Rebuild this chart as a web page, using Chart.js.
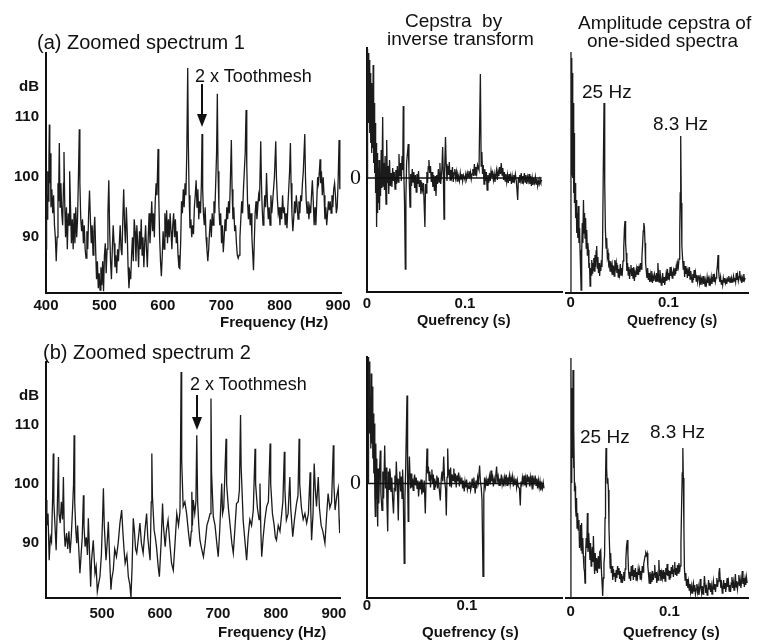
<!DOCTYPE html>
<html>
<head>
<meta charset="utf-8">
<script src="https://cdn.jsdelivr.net/npm/chart.js@4.4.0/dist/chart.umd.min.js"></script>
<style>
  body { margin: 0; background: #fff; }
  #page { position: relative; width: 763px; height: 640px; overflow: hidden;
          font-family: "Liberation Sans", Arial, sans-serif; color: #111; }
  #page canvas { position: absolute; left: 0; top: 0; }
  .t { position: absolute; white-space: pre; line-height: 1; }
  .bar { position: absolute; background: #111; }
  .head { position: absolute; width: 0; height: 0; }
</style>
</head>
<body>
<div id="page">
  <canvas id="specA" width="763" height="640"></canvas>
  <canvas id="cepA" width="763" height="640"></canvas>
  <canvas id="ampA" width="763" height="640"></canvas>
  <canvas id="specB" width="763" height="640"></canvas>
  <canvas id="cepB" width="763" height="640"></canvas>
  <canvas id="ampB" width="763" height="640"></canvas>
</div>
<script>
// ---- data: [frequency Hz, level dB] ----
const spectrum1 = [
 [400,88],[401,97],[402,93],[403,101],[404,96],[405,103],[405.7,108.8],[406.5,99],[407.5,104],[408.5,95],[410,98],[411.5,94],[413,97],[414.5,92],[416,90],[417.5,86],[419,90],[420.5,99],[421.5,96],[422.8,105.7],[424,95],[425.5,99],[427,94],[428.5,92],[430,99],[430.8,104.2],[432,96],[433.5,90],[435,95],[436.5,88],[438,94],[439.5,92],[440.5,101],[442,95],[443.5,89],[445,93],[446.5,88],[448,94],[449.5,89],[451,95],[452.5,90],[454,93],[455.5,100],[457,108],[458,99],[459.5,93],[461,91],[462.5,93],[464,89],[465.5,92],[467,88],[468.5,86.5],[470,91],[471.5,88],[473,94],[474.5,97.8],[476,93],[477.5,89],[479,92],[480.5,87],[482,91],[483.5,93.4],[485,88],[486.5,83],[488,86],[489.5,81.5],[491,84],[492.5,81.2],[494,85],[495.5,82],[497,86],[498.5,81],[500,87],[501.5,89],[503,84],[504.5,88],[506,94],[507.5,99.5],[509,91],[510.5,86],[512,83],[513.5,88],[515,92],[516.5,89],[518,85],[519.5,87],[521,84],[522.5,88],[524,86],[525.5,89],[527,92],[528.5,88],[530,87],[531.5,93],[533,98],[534.5,92],[536,89],[537.5,95],[539,91],[540.5,85],[542,81.5],[543.5,84],[545,83],[546.5,87],[548,90],[549.5,86],[551,93],[552.5,91],[554,86],[555.5,92],[557,89],[558.5,85],[560,91],[561.5,88],[563,93],[564.5,87],[566,90],[567.5,85],[569,89],[570.5,92],[572,88],[573.5,85],[575,90],[576.5,94],[578,89],[579.5,92],[581,96],[582.5,91],[584,94],[585.5,90],[587,96],[588.5,99],[590,97],[591.8,104.7],[593,97],[594.5,90],[596,86],[597.5,83.5],[599,87],[600.5,91],[602,88],[603.5,94],[605,90],[606.5,94.5],[608,89],[609.5,93],[611,90],[612.5,94],[614,91],[615.5,88],[617,92],[618.5,94],[620,90],[621.5,93],[623,89],[624.5,91],[626,87],[627.5,85],[629,84.8],[630.5,89],[632,96],[633.5,94],[635,98],[636.5,95],[638,99],[639.5,97],[641,104],[642.6,118.2],[643.6,106],[645,97],[646.5,91.5],[648,93],[649.5,90],[651,92],[652.5,90.5],[654,95],[655.5,97],[657,99.5],[658.5,95],[660,98],[661.5,93],[663,96],[664.5,94],[666,99],[667.1,107.2],[668.2,98],[669.5,94],[671,92],[672.5,95],[674,90],[675.5,88],[677,86],[678.5,88],[680,91],[681.5,93],[683,90],[684.5,94],[686,92],[687.5,96],[689,94],[690.5,99],[692,104],[693.3,113.9],[694.5,101],[696,95],[697.5,92],[699,94],[700.5,89],[702,92],[703.5,87.5],[705,90],[706.5,93],[708,91],[709.5,95],[711,93],[712.5,96],[714,94],[715.5,99],[717.3,106.2],[718.5,98],[720,93],[721.5,95],[723,91],[724.5,92],[726,89],[727.5,87],[729,86.5],[730.5,87],[732,90],[733.5,93],[735,96],[736.5,94],[738,98],[739.5,101],[741,104],[742.5,111.2],[743.7,102],[745,96],[746.5,93],[748,95.5],[749.5,92],[751,94],[752.5,90],[754,87],[755.2,84.5],[756.5,89],[758,94],[759.5,96],[761,93],[762.5,95],[764,97],[765.5,96],[767.6,106],[768.8,99],[770,95],[771.5,92],[773,94],[774.5,97],[776,95],[777.5,100.7],[779,96],[780.5,93],[782,95],[783.5,92],[785,97],[786.5,94],[788,96],[789.5,98],[791,100],[793.3,106],[794.5,100],[796,96.5],[797.5,94],[799,95],[800.5,92],[802,95],[803.5,93],[805,97],[806.5,94],[808,95],[809.5,92],[811,94],[812.5,91.5],[814,95],[815.5,98],[817,101],[818.4,105.7],[819.5,99],[821,94],[822.5,91],[824,93],[825.5,96],[827,94],[828.5,97],[830,95],[831.5,93],[833,96],[834.5,94],[836,97],[837.5,96],[839,99],[840.5,101],[843,107.2],[844.2,100],[845.5,96],[847,94],[848.5,96],[850,93],[851.5,95],[853,94],[854.5,97],[856,99.5],[857.5,96],[859,92],[860.5,95],[862,92],[863.5,96],[865,100],[866.5,99],[868,101],[869.2,103],[870.3,99],[871.5,101],[873,97],[874.5,100],[876,97],[877.5,93],[879,95],[880.5,92],[882,94],[883.5,96],[885,94.5],[886.5,96],[888,94],[889.5,97],[891,95],[892.5,98],[894,99],[895.5,97],[897,94],[898.5,95],[900,99],[901.7,106.2],[903,98]
];
const spectrum2 = [
 [404,97.3],[405,93],[407,95],[409,87.1],[411,91],[413,90.2],[415,98],[416,105.2],[417,97],[419,93],[421,88.8],[423,96],[425,104.6],[426,95],[428,93.4],[430,97],[432,94],[433.5,101.2],[435,92],[436.5,89.4],[439,91.7],[441,89],[443,92],[445,88.3],[447,91],[449.5,96.2],[451,100],[452,108.3],[453,97],[455,92],[456.5,90],[458,93],[460,89],[462,84.9],[464,88],[466,91],[468,98.1],[469,93],[471,89.4],[473,91],[475,88],[476.5,94.2],[478,90],[480.5,82.6],[482,87],[485,90.5],[488,84.9],[490,86],[492,81.8],[494,83],[496.5,84.3],[499,88],[501,94],[502.5,99.3],[504,93],[507,87.1],[509,90],[511,93.6],[513,88],[515.5,82.1],[517,84],[519.5,85.4],[522,89],[525,87.7],[528,90],[531,93.4],[534,95.6],[536,92],[538,89],[540,86.6],[543,88],[545.5,84.3],[548,83],[550,80.8],[552,86],[554,94.2],[556,92],[558,89],[560,88.3],[563,91],[565.5,93.4],[568,90],[571,88.3],[574,92],[577,95],[579,91],[581,89],[583,87.1],[585,97],[586,105.2],[587,98],[590,92.2],[592,91],[594,89.4],[597,86],[599,84.3],[602,90],[604.5,96.7],[606,93],[609,89.4],[611,92],[614,93.9],[617,90],[620,86.6],[623,85.4],[626,90],[629,95],[632,93],[634.5,95.3],[635.5,106],[636.5,119],[637.5,104],[640,96.2],[643,97],[646,95],[649,92],[652,89.4],[654,92],[655,98.7],[656,93],[657.5,97.3],[660,95],[662,97],[663.5,108.3],[665,97],[667,93],[669,90.5],[672,89],[675,87.7],[678,90],[681,93],[684,94],[686.5,95],[688,114.5],[689,102],[692,94.5],[695,93],[698,90],[700.5,87.7],[703,92],[706.5,100.1],[708,95],[710,96],[714,107.7],[715,100],[718,96],[721,93],[724,90],[726.5,88.3],[729,92],[732,96.7],[735,97],[737,99],[739,111.7],[740,103],[743.5,93.9],[746,91],[749.5,87.1],[752,91],[755,94],[758,93],[761,95.6],[764,106],[765,100],[768,96],[771,94],[772.5,100.1],[774,92],[775.5,87.7],[778,91],[781,94],[784,96.2],[787,97],[790,106.9],[791,100],[794,95],[797,93],[799,91],[801,90.5],[804,93],[807,92],[810,95],[812,97],[814.5,105.5],[815.5,99],[818,93.9],[821,95],[824,101.2],[825.5,96],[829,91.1],[832,94],[835.5,96.7],[838,98],[840,107.7],[841,100],[844,96],[847,94],[850,95],[853,93.4],[856,95],[859,102],[860,96],[861.5,90.5],[864,95],[866,103.5],[868,99],[870,96.2],[873,101.2],[875,96],[878,93],[881,92],[884.5,90],[887,94],[890,98.4],[893,96],[896,97],[899,106.6],[900,100],[902,95.6],[905,98],[907.5,99.3],[909,94],[910,91.7]
];
// ---- cepstra by inverse transform: [quefrency s, relative amplitude] ----
const cepstrum1 = [
 [0,0],[0.0003,12.9],[0.0008,7],[0.0013,12.5],[0.0018,5.5],[0.0023,11.8],[0.0028,4.5],[0.0033,10.5],[0.0038,3.5],[0.0043,9.5],[0.0048,2.5],[0.0053,8],[0.0058,3],[0.0063,11.3],[0.0068,1.5],[0.0073,7.5],[0.0078,0.5],[0.0083,5.5],[0.0088,-1.5],[0.0093,3.5],[0.0098,-4.9],[0.0103,2.5],[0.0108,-3.5],[0.0113,1],[0.0118,-2.5],[0.0123,1.8],[0.0128,-3.2],[0.0133,0.5],[0.0138,-1.8],[0.0145,2.8],[0.0152,-1],[0.016,6.1],[0.0166,-0.8],[0.0172,1.5],[0.0178,-1.2],[0.0185,2.2],[0.0194,-2.6],[0.0201,3.8],[0.0208,-0.5],[0.0215,1.2],[0.0222,-1.6],[0.023,1.8],[0.0238,-0.8],[0.0246,0.5],[0.0254,-0.9],[0.0262,1],[0.027,-0.3],[0.0278,0.6],[0.0286,-1.1],[0.0294,0.8],[0.0302,-0.6],[0.031,1.2],[0.0318,-0.4],[0.0326,2.4],[0.0334,0.2],[0.0342,1.5],[0.035,-0.3],[0.0358,2.2],[0.0365,0.8],[0.037,7.2],[0.0376,0.5],[0.0383,-2.5],[0.0391,-9.1],[0.0397,-2],[0.0404,1.5],[0.0421,3.4],[0.0428,0.8],[0.0434,-1.2],[0.0439,-2.9],[0.0446,0.4],[0.0454,-0.8],[0.0462,0.9],[0.047,-0.4],[0.0478,0.6],[0.0486,-1],[0.0494,0.3],[0.0502,-1.4],[0.051,0.4],[0.0518,-0.6],[0.0526,0.7],[0.0534,-0.9],[0.0542,-0.2],[0.055,-1.6],[0.0558,-0.4],[0.0566,-1.2],[0.0576,-0.5],[0.0591,-4.9],[0.0597,-0.6],[0.0604,-1.5],[0.0611,0.6],[0.0618,-0.5],[0.0625,1.1],[0.0632,1.8],[0.064,0.5],[0.0648,1.2],[0.0656,-0.4],[0.0664,0.6],[0.0672,-0.9],[0.068,0.3],[0.0688,-1.3],[0.0696,0.2],[0.0704,-1.8],[0.0712,0.3],[0.072,-0.6],[0.0728,0.9],[0.0736,-0.4],[0.0744,1.5],[0.0752,-0.6],[0.0764,0.8],[0.0772,3.1],[0.0779,0.4],[0.0786,-4.1],[0.0792,0.6],[0.0801,4.1],[0.0808,1.4],[0.0816,-0.3],[0.0824,1.2],[0.0832,0.3],[0.084,1.6],[0.0848,-0.2],[0.0856,0.8],[0.0864,0.2],[0.0872,1.1],[0.088,-0.4],[0.0888,0.5],[0.0896,0.9],[0.0904,0],[0.0912,0.6],[0.092,-0.3],[0.0928,0.4],[0.0936,0.1],[0.0944,-0.3],[0.0952,0.5],[0.096,-0.1],[0.0968,0.4],[0.0976,-0.3],[0.0984,0.3],[0.0992,0.1],[0.1,-0.2],[0.1008,0.4],[0.1016,-0.1],[0.1024,0.5],[0.1032,0.1],[0.104,0.7],[0.1048,0.2],[0.1056,0.6],[0.1064,-0.1],[0.1072,0.4],[0.108,0.9],[0.1088,0.2],[0.1096,1.4],[0.1104,0.3],[0.1112,1.1],[0.112,0.5],[0.1128,1.3],[0.1143,0.8],[0.1157,10.4],[0.1165,1.2],[0.1172,2.6],[0.1179,0.4],[0.1186,1.3],[0.1194,-0.6],[0.1202,0.9],[0.121,-0.3],[0.1218,0.6],[0.1226,-1.2],[0.1234,0.3],[0.1242,-0.5],[0.125,0.5],[0.1258,-0.3],[0.1266,0.7],[0.1274,0.1],[0.1282,0.5],[0.129,-0.2],[0.1298,0.4],[0.1306,-0.4],[0.1314,0.3],[0.1322,0.8],[0.133,-0.2],[0.1338,0.7],[0.1346,0.2],[0.1354,1.1],[0.1362,0.4],[0.137,1.5],[0.1378,0.3],[0.1386,1],[0.1394,-0.2],[0.1402,0.6],[0.141,-0.3],[0.1418,0.4],[0.1426,-0.4],[0.1434,0.3],[0.1442,-0.5],[0.145,0.4],[0.1458,-0.3],[0.1466,0.2],[0.1474,-0.6],[0.1482,0.2],[0.149,-0.4],[0.1498,0.3],[0.1506,-0.2],[0.1514,0.4],[0.1524,-0.3],[0.1538,-2.2],[0.1545,0.1],[0.1552,-0.4],[0.1559,0.3],[0.1566,-0.2],[0.1574,0.5],[0.1582,-0.5],[0.159,0.2],[0.1598,-0.3],[0.1606,0.5],[0.1614,-0.4],[0.1622,0.3],[0.163,-0.6],[0.1638,0.1],[0.1646,-0.3],[0.1654,0.4],[0.1662,-0.6],[0.167,0.2],[0.1678,-0.8],[0.1686,0],[0.1694,-0.7],[0.1702,-0.2],[0.171,-0.5],[0.1718,0.1],[0.1726,-0.6],[0.1734,-0.1],[0.1742,-0.8],[0.175,-0.3],[0.1758,-0.6],[0.1766,-0.1],[0.1774,-0.4],[0.1782,-0.2]
];
const cepstrum2 = [
 [0.001,0],[0.0013,12.7],[0.0018,6],[0.0023,12.2],[0.0028,5],[0.0033,8.7],[0.0038,3.5],[0.0043,11],[0.0048,4],[0.0053,9.7],[0.0058,2.5],[0.0063,7],[0.0068,1],[0.0073,6],[0.0078,-1],[0.0083,-3.3],[0.0088,4],[0.0093,-1.5],[0.0098,2.5],[0.0103,-2.5],[0.0107,-4.3],[0.0112,1.5],[0.0118,-2],[0.0124,0.8],[0.0133,3.3],[0.0139,-1],[0.015,-2.7],[0.0158,1.2],[0.0166,-1.5],[0.0177,3.8],[0.0185,-0.5],[0.0193,1.6],[0.0199,-1.8],[0.0207,-4.8],[0.0214,1.2],[0.022,-0.6],[0.0227,1.5],[0.0233,1],[0.024,-0.8],[0.0248,0.6],[0.0256,-1.5],[0.0265,-3],[0.0272,-0.5],[0.0279,0.8],[0.0286,-0.8],[0.0293,2.2],[0.03,0.5],[0.0306,-1.2],[0.0313,-3.7],[0.032,0.4],[0.0328,1.2],[0.0336,-0.8],[0.0343,0.7],[0.035,-1.5],[0.0356,1.4],[0.0362,-0.5],[0.0372,-8],[0.0379,-1.5],[0.0386,1.2],[0.04,8.8],[0.0406,0.5],[0.0412,-3.8],[0.0418,0.4],[0.0424,2.7],[0.043,0.8],[0.0436,-0.5],[0.0442,1],[0.0448,-0.4],[0.0455,0.5],[0.0462,-0.7],[0.0469,0.3],[0.0476,0.9],[0.0484,-0.2],[0.0492,0.6],[0.05,-0.5],[0.0508,0.3],[0.0516,-1.3],[0.0524,0.2],[0.0532,-0.6],[0.054,0.4],[0.0548,-1.1],[0.0556,-0.2],[0.0564,-0.9],[0.0572,0.3],[0.0583,-3],[0.0591,0.4],[0.06,3.5],[0.0607,1],[0.0614,1.7],[0.0621,0.3],[0.0628,1.2],[0.0635,-0.4],[0.0642,0.8],[0.0649,1.4],[0.0656,0],[0.0663,0.9],[0.067,-0.6],[0.0677,0.5],[0.0684,-0.4],[0.0691,0.2],[0.0698,0.8],[0.0705,-0.5],[0.0712,0.6],[0.072,-0.3],[0.0733,-1.7],[0.0742,0.4],[0.075,1.2],[0.0758,0.2],[0.0767,2.7],[0.0775,0.5],[0.0786,-0.6],[0.0793,-3.2],[0.08,0.6],[0.0807,3.5],[0.0814,0.8],[0.0821,1.4],[0.0828,-0.3],[0.0836,1.6],[0.0844,-0.4],[0.0852,0.9],[0.086,0.3],[0.0868,1.5],[0.0876,0.1],[0.0884,1],[0.0892,-0.4],[0.09,0.8],[0.0908,0.2],[0.0916,1.1],[0.0924,-0.3],[0.0932,0.5],[0.094,0.1],[0.0948,0.6],[0.0956,-0.5],[0.0964,0.3],[0.0972,-0.8],[0.098,0.2],[0.0988,-0.4],[0.0996,0.4],[0.1004,-0.6],[0.1012,-0.2],[0.102,-0.5],[0.1028,0.2],[0.1036,-0.7],[0.1044,-0.3],[0.1052,0.5],[0.106,-0.4],[0.1068,0.6],[0.1076,-0.3],[0.1082,-1],[0.109,0.3],[0.1098,-0.5],[0.1106,0.6],[0.1114,0.1],[0.1126,1.8],[0.1134,0.2],[0.1142,-0.4],[0.115,-1.6],[0.116,-9.3],[0.1168,-1.2],[0.1176,0.6],[0.1184,-0.3],[0.1192,0.4],[0.12,-0.2],[0.1208,0.5],[0.1216,0.1],[0.1224,0.7],[0.1232,-0.1],[0.124,1.3],[0.1248,0.2],[0.1256,0.6],[0.1264,-0.3],[0.1272,0.5],[0.128,0.1],[0.1288,0.8],[0.1296,1.7],[0.1304,0.3],[0.1312,0.7],[0.132,-0.2],[0.1328,0.5],[0.1336,0.1],[0.1344,0.9],[0.1352,-0.1],[0.136,0.4],[0.1368,-0.3],[0.1376,0.6],[0.1384,0.1],[0.1392,0.9],[0.14,-0.2],[0.1408,0.6],[0.1416,0.2],[0.1424,0.8],[0.1432,-0.1],[0.144,0.6],[0.1448,0.1],[0.1456,0.7],[0.1464,-0.3],[0.1472,0.4],[0.148,-0.1],[0.1488,0.5],[0.1496,-0.4],[0.1504,0.3],[0.1512,-0.3],[0.1524,-0.5],[0.1533,-2.2],[0.154,0.2],[0.1547,-0.3],[0.1554,0.6],[0.1562,0.1],[0.157,0.8],[0.1578,-0.2],[0.1586,0.5],[0.1594,-0.4],[0.1602,0.9],[0.161,0.2],[0.1618,0.7],[0.1626,-0.3],[0.1634,0.6],[0.1642,-0.1],[0.165,0.8],[0.1658,-0.6],[0.1666,0.4],[0.1674,0.1],[0.1682,0.8],[0.169,-0.2],[0.1698,0.5],[0.1706,-0.5],[0.1714,0.3],[0.1722,-0.4],[0.173,0.2],[0.1738,-0.7],[0.1746,-0.1],[0.1754,-0.5],[0.1762,0.1],[0.177,-0.5]
];
// ---- amplitude cepstra of one-sided spectra: [quefrency s, amplitude] ----
const ampCepstrum1 = [
 [0,0],[0.0002,24.1],[0.0006,13],[0.001,23.5],[0.0014,12],[0.0018,22],[0.0022,11.5],[0.0026,19],[0.003,10],[0.0034,16],[0.0038,9],[0.0044,11],[0.005,7.5],[0.0056,9.3],[0.0061,6],[0.0067,8],[0.0072,5.5],[0.0078,8.7],[0.0084,5],[0.009,6.5],[0.0095,4.3],[0.01,2.5],[0.0106,0.3],[0.0112,4],[0.0118,7],[0.0124,5],[0.013,9.3],[0.0136,6],[0.0141,8],[0.0146,5.5],[0.0152,7.5],[0.0158,4.5],[0.0164,6.3],[0.017,3.8],[0.0175,5],[0.018,4.3],[0.0186,2.5],[0.0192,3],[0.0198,0.7],[0.0204,2.5],[0.021,1.8],[0.0215,3.3],[0.022,2],[0.0225,3],[0.023,2.3],[0.0236,3.5],[0.0242,2.2],[0.0248,3.8],[0.0254,2.6],[0.026,4.2],[0.0266,4.7],[0.0272,2.5],[0.0278,3.6],[0.0284,2],[0.029,3],[0.0296,1.7],[0.0302,2.8],[0.0308,2.2],[0.0314,3.3],[0.032,2.6],[0.0326,5],[0.0333,12],[0.0341,19],[0.0348,11],[0.0355,6.3],[0.0362,4.5],[0.0368,5.5],[0.0375,3.6],[0.0382,4],[0.0389,2.8],[0.0396,3],[0.0403,2.2],[0.041,3.2],[0.0417,2.3],[0.0424,2.8],[0.0431,1.8],[0.0438,2.7],[0.0445,1.7],[0.0452,3.3],[0.0459,2.5],[0.0466,3],[0.0473,2],[0.048,2.8],[0.0487,1.6],[0.0494,2.4],[0.0501,1.9],[0.0508,2.9],[0.0515,1.8],[0.0522,2.5],[0.0529,2.1],[0.0536,3.2],[0.0543,4.5],[0.055,6.5],[0.0556,7.2],[0.0562,5],[0.0568,4],[0.0575,2.2],[0.0582,3],[0.0589,1.8],[0.0596,2.6],[0.0603,1.4],[0.061,2.3],[0.0617,2.8],[0.0624,1.7],[0.0631,2.5],[0.0638,1.5],[0.0645,2.6],[0.0652,1.2],[0.0659,2],[0.0666,1.6],[0.0673,2.4],[0.068,1.9],[0.0687,2.7],[0.0694,1.8],[0.0701,2.5],[0.0708,2.1],[0.0715,3],[0.0722,2.4],[0.0729,3.5],[0.0736,4.8],[0.0743,6.2],[0.0749,7],[0.0755,6.6],[0.0761,5],[0.0767,3],[0.0774,2.2],[0.0781,1.5],[0.0788,2.5],[0.0795,1.3],[0.0802,2],[0.0809,1.1],[0.0816,1.8],[0.0823,1.2],[0.083,2.2],[0.0837,1],[0.0844,1.6],[0.0851,1.2],[0.0858,1.9],[0.0865,1.6],[0.0872,1.1],[0.0879,2],[0.0886,1.2],[0.0893,3],[0.09,1.8],[0.0907,1.1],[0.0914,2.3],[0.0921,1.5],[0.0928,0.8],[0.0935,1.3],[0.0942,2],[0.0949,1],[0.0956,1.6],[0.0963,0.8],[0.097,1.3],[0.0977,1.9],[0.0984,1.2],[0.0991,2.4],[0.0998,1.4],[0.1005,2],[0.1012,1.6],[0.1019,2.6],[0.1026,1.7],[0.1033,2.2],[0.104,1.5],[0.1047,2],[0.1054,2.3],[0.1061,1.8],[0.1068,2.5],[0.1075,1.9],[0.1082,2.7],[0.1089,2.2],[0.1096,3],[0.1103,2.6],[0.111,3.4],[0.1117,6],[0.1122,10],[0.1127,15.7],[0.1133,9],[0.1139,4.7],[0.1146,3.5],[0.1153,2.4],[0.116,3.2],[0.1167,1.6],[0.1174,2.7],[0.1181,1.9],[0.1188,2.5],[0.1195,1.5],[0.1202,2.2],[0.1209,1.7],[0.1216,2.6],[0.1223,1.4],[0.123,2.2],[0.1237,1.6],[0.1244,1.1],[0.1251,1.9],[0.1258,1.3],[0.1265,2.3],[0.1272,1.5],[0.1279,2],[0.1286,1.2],[0.1293,1.8],[0.13,1.1],[0.1307,1.6],[0.1314,1.8],[0.1321,1],[0.1328,1.5],[0.1335,0.8],[0.1342,1.4],[0.1349,1.1],[0.1356,1.7],[0.1363,0.9],[0.137,1.3],[0.1377,0.7],[0.1384,1.2],[0.1391,0.9],[0.1398,1.6],[0.1405,1],[0.1412,1.4],[0.1419,0.8],[0.1426,1.3],[0.1433,1],[0.144,1.6],[0.1447,0.9],[0.1454,1.3],[0.1461,1.9],[0.1468,1.1],[0.1475,1.6],[0.1482,1.1],[0.1489,1.5],[0.1496,2.1],[0.1503,2.7],[0.151,3.8],[0.1516,2.2],[0.1522,1.5],[0.1529,1.1],[0.1536,1.6],[0.1543,0.9],[0.155,1.3],[0.1557,0.8],[0.1564,1.5],[0.1571,1.1],[0.1578,1.5],[0.1585,1],[0.1592,1.3],[0.1599,0.9],[0.1606,1.4],[0.1613,1.2],[0.162,1.7],[0.1627,1.2],[0.1634,1.4],[0.1641,1],[0.1648,1.5],[0.1655,1.1],[0.1662,1.3],[0.1669,1.7],[0.1676,1.2],[0.1683,1.5],[0.169,1.1],[0.1697,2],[0.1704,1.3],[0.1711,1.8],[0.1718,1.2],[0.1725,1.6],[0.1732,2.2],[0.1739,1.4],[0.1746,1.6],[0.1753,1],[0.176,1.5],[0.1767,1.2],[0.1774,1.9],[0.1781,1.3],[0.1788,1.5]
];
const ampCepstrum2 = [
 [0,0],[0.0002,24],[0.0006,12],[0.001,11.5],[0.0014,21],[0.0019,14],[0.0023,22.8],[0.0028,13],[0.0033,17],[0.0038,11],[0.0044,11.2],[0.0049,9],[0.0054,8.2],[0.0059,10],[0.0064,7],[0.007,8.5],[0.0077,6.8],[0.0083,7.8],[0.0089,5],[0.0094,5.5],[0.01,7.3],[0.0105,4.8],[0.011,7.5],[0.0116,4.5],[0.0122,6],[0.0128,4.2],[0.0134,3],[0.014,2.6],[0.0145,1.5],[0.015,4],[0.0157,6],[0.0163,5],[0.0169,8.5],[0.0175,4.6],[0.0182,6.5],[0.0189,5.2],[0.0195,3.8],[0.0201,5.5],[0.0207,3.2],[0.0213,4.2],[0.0219,5.1],[0.0225,3.6],[0.023,6.2],[0.0236,3.9],[0.0242,2.4],[0.0248,4.5],[0.0257,2.8],[0.0263,4],[0.027,2.5],[0.028,4.2],[0.0287,3],[0.0294,4.6],[0.0304,4.8],[0.0312,2.6],[0.0318,1.5],[0.0324,0.2],[0.033,2],[0.0337,3.5],[0.0343,4.2],[0.0348,8],[0.0353,12],[0.0358,15],[0.0364,13],[0.037,11.5],[0.0376,12],[0.0382,10.8],[0.0388,7],[0.0394,5],[0.04,3],[0.0405,4.5],[0.0412,2.5],[0.0419,3.2],[0.0426,1.8],[0.0433,2.9],[0.044,2.2],[0.0447,2.5],[0.0454,1.6],[0.0461,2.8],[0.0468,2],[0.0475,3.2],[0.0482,2.4],[0.0489,3],[0.0496,1.9],[0.0503,2.7],[0.051,1.6],[0.0517,2.4],[0.0524,1.5],[0.0531,2.1],[0.0538,2.6],[0.0545,1.7],[0.0552,2.9],[0.0559,3.8],[0.0566,5.2],[0.0574,5.8],[0.058,4.4],[0.0586,2.8],[0.0593,2],[0.06,2.6],[0.0607,1.7],[0.0614,3.2],[0.0621,2.2],[0.0628,3.3],[0.0635,1.8],[0.0642,2.8],[0.0649,2.1],[0.0656,3],[0.0663,1.8],[0.067,2.6],[0.0677,2.1],[0.0684,2.9],[0.0691,2.3],[0.0698,2.8],[0.0705,1.9],[0.0712,2.7],[0.0719,2.2],[0.0726,3.2],[0.0733,2.6],[0.074,3.4],[0.0747,3.8],[0.0754,4.2],[0.0761,4.5],[0.0768,4.3],[0.0775,4.5],[0.0782,3.2],[0.0789,2.4],[0.0796,1.5],[0.0803,2.6],[0.081,1.4],[0.0817,2.2],[0.0824,1.6],[0.0831,2.7],[0.0838,1.8],[0.0845,2.4],[0.0852,3.3],[0.0859,2],[0.0866,2.6],[0.0873,1.5],[0.088,2.3],[0.0887,1.8],[0.0894,3.8],[0.0901,2.2],[0.0908,2.8],[0.0915,1.7],[0.0922,2.5],[0.0929,2],[0.0936,2.8],[0.0943,1.9],[0.095,2.6],[0.0957,1.7],[0.0964,3],[0.0971,2.3],[0.0978,3.4],[0.0985,2.2],[0.0992,2.8],[0.0999,1.9],[0.1006,2.7],[0.1013,2],[0.102,3.1],[0.1027,2.4],[0.1034,3.3],[0.1041,2.1],[0.1048,2.8],[0.1055,3.6],[0.1062,2.3],[0.1069,3],[0.1076,2.2],[0.1083,3.3],[0.109,2.5],[0.1097,3.5],[0.1104,2.6],[0.1111,3.2],[0.1118,5.5],[0.1125,9.5],[0.1131,12.5],[0.1137,15],[0.1142,12],[0.1148,7],[0.1153,3],[0.116,1.8],[0.1167,2.5],[0.1174,1.2],[0.1181,1.9],[0.1188,1],[0.1195,1.6],[0.1202,0.8],[0.1209,1.4],[0.1216,0.6],[0.1223,1.2],[0.123,0.5],[0.1237,1.1],[0.1244,1.5],[0.1251,0.7],[0.1258,1.3],[0.1265,0.4],[0.1272,0.9],[0.1279,1.4],[0.1286,0.6],[0.1293,1.1],[0.13,0.3],[0.1307,0.8],[0.1314,1.9],[0.1321,1.1],[0.1328,0.5],[0.1335,1.2],[0.1342,0.4],[0.1349,0.9],[0.1356,2.2],[0.1363,1.3],[0.137,0.5],[0.1377,1],[0.1384,0.3],[0.1391,0.8],[0.1398,1.8],[0.1405,0.9],[0.1412,1.5],[0.1419,0.6],[0.1426,1.2],[0.1433,0.4],[0.144,1.1],[0.1447,1.7],[0.1454,0.9],[0.1461,1.4],[0.1468,0.6],[0.1475,1.3],[0.1482,2],[0.1489,1.1],[0.1496,1.7],[0.1503,2.5],[0.151,3],[0.1516,1.8],[0.1523,1],[0.153,1.4],[0.1537,0.5],[0.1544,1],[0.1551,1.8],[0.1558,0.9],[0.1565,1.5],[0.1572,0.6],[0.1579,1.2],[0.1586,2],[0.1593,1.1],[0.16,1.6],[0.1607,0.7],[0.1614,1.3],[0.1621,0.6],[0.1628,1.5],[0.1635,2.1],[0.1642,1],[0.1649,1.6],[0.1656,0.8],[0.1663,1.4],[0.167,2.4],[0.1677,1.1],[0.1684,1.7],[0.1691,0.9],[0.1698,1.5],[0.1705,2.3],[0.1712,1.2],[0.1719,1.8],[0.1726,1],[0.1733,1.7],[0.174,2.7],[0.1747,1.4],[0.1754,2],[0.1761,1.1],[0.1768,1.9],[0.1775,1.3],[0.1782,2.1],[0.1789,1.5]
];
// tick values
const freqTicks1 = [400, 500, 600, 700, 800, 900];
const freqTicks2 = [500, 600, 700, 800, 900];
const levelTicks = [90, 100, 110, 115];   // 115 carries the "dB" unit label
const quefTicks = [0, 0.1];

// ---- drawing ----
const W = 763, H = 640;
const INK = '#1b1b1b';
const tickFont = { family: 'Liberation Sans', size: 15, weight: 'bold', lineHeight: 1 };

function pts(arr) { return arr.map(p => ({ x: p[0], y: p[1] })); }

function panel(id, datasets, box, xs, ys) {
  const yw = ys.display === false ? 0 : ys.width;
  return new Chart(document.getElementById(id), {
    type: 'line',
    data: { datasets: datasets },
    options: {
      responsive: false,
      animation: false,
      events: [],
      layout: { padding: { left: box.l - yw, right: W - box.r, top: box.t, bottom: H - box.b - xs.height } },
      plugins: { legend: { display: false }, tooltip: { enabled: false } },
      elements: { point: { radius: 0 }, line: { borderColor: INK, borderWidth: 1.3, tension: 0 } },
      scales: {
        x: {
          type: 'linear', min: xs.min, max: xs.max,
          grid: { display: false, drawTicks: false },
          border: { display: true, color: '#111', width: 2 },
          afterBuildTicks: s => { s.ticks = xs.ticks.map(v => ({ value: v })); },
          afterFit: s => { s.height = xs.height; s.paddingLeft = 0; s.paddingRight = 0; },
          ticks: { padding: xs.pad, color: '#111', font: tickFont, maxRotation: 0, autoSkip: false,
                   callback: v => String(v) }
        },
        y: {
          type: 'linear', min: ys.min, max: ys.max, display: ys.display !== false,
          grid: { display: false, drawTicks: false },
          border: { display: true, color: '#111', width: 2 },
          afterBuildTicks: s => { s.ticks = (ys.ticks || []).map(v => ({ value: v })); },
          afterFit: s => { s.width = yw; s.paddingTop = 0; s.paddingBottom = 0; },
          ticks: { padding: ys.pad || 0, color: '#111', font: ys.font || tickFont, autoSkip: false,
                   callback: ys.label || (v => String(v)) }
        }
      }
    }
  });
}

function line(arr) { return { data: pts(arr), borderColor: INK, borderWidth: 1.3, pointRadius: 0 }; }
function zeroLine(arr) {
  return { data: [{ x: arr[0][0], y: 0 }, { x: arr[arr.length - 1][0], y: 0 }],
           borderColor: '#111', borderWidth: 1.6, pointRadius: 0 };
}
const dbLabel = v => (v === 115 ? 'dB' : String(v));
const serifZero = { family: 'Liberation Serif', size: 22, lineHeight: 1 };

// (a) row
panel('specA', [line(spectrum1)], { l: 46, r: 341, t: 53, b: 293 },
      { min: 400, max: 905, ticks: freqTicks1, height: 30, pad: 5 },
      { min: 80.7, max: 120.7, ticks: levelTicks, width: 46, pad: 7, label: dbLabel });
panel('cepA', [zeroLine(cepstrum1), line(cepstrum1)], { l: 367, r: 562, t: 48, b: 292 },
      { min: 0, max: 0.199, ticks: quefTicks, height: 30, pad: 4.5 },
      { min: -11.4, max: 13.0, ticks: [0], width: 30, pad: 6, font: serifZero });
panel('ampA', [line(ampCepstrum1)], { l: 566, r: 748, t: 48, b: 293 },
      { min: -0.0049, max: 0.1817, ticks: quefTicks, height: 30, pad: 2.5 },
      { min: 0, max: 24.5, display: false });

// (b) row
panel('specB', [line(spectrum2)], { l: 46, r: 340, t: 362, b: 598 },
      { min: 403.5, max: 910.5, ticks: freqTicks2, height: 30, pad: 8.5 },
      { min: 80.7, max: 120.7, ticks: levelTicks, width: 46, pad: 7, label: dbLabel });
panel('cepB', [zeroLine(cepstrum2), line(cepstrum2)], { l: 367, r: 562, t: 357, b: 598 },
      { min: 0, max: 0.195, ticks: quefTicks, height: 30, pad: 0 },
      { min: -11.47, max: 12.66, ticks: [0], width: 30, pad: 6, font: serifZero });
panel('ampB', [line(ampCepstrum2)], { l: 566, r: 748, t: 353, b: 598 },
      { min: -0.0048, max: 0.1798, ticks: quefTicks, height: 30, pad: 6 },
      { min: 0, max: 24.5, display: false });

// ---- text and arrows ----
const page = document.getElementById('page');
function text(str, left, baseline, size, bold) {
  const d = document.createElement('div');
  d.className = 't';
  d.textContent = str;
  d.style.left = left + 'px';
  d.style.top = (baseline - 0.8465 * size) + 'px';
  d.style.fontSize = size + 'px';
  if (bold) d.style.fontWeight = 'bold';
  page.appendChild(d);
}
function arrow(x, y0, y1) {
  const s = document.createElement('div');
  s.className = 'bar';
  s.style.cssText = 'left:' + (x - 1) + 'px;top:' + y0 + 'px;width:2px;height:' + (y1 - y0 - 10) + 'px;';
  page.appendChild(s);
  const h = document.createElement('div');
  h.className = 'head';
  h.style.cssText = 'left:' + (x - 5) + 'px;top:' + (y1 - 13) + 'px;border-left:5px solid transparent;' +
                    'border-right:5px solid transparent;border-top:13px solid #111;';
  page.appendChild(h);
}

text('(a) Zoomed spectrum 1', 37, 49, 20);
text('2 x Toothmesh', 195, 82.7, 18);
arrow(202, 84, 127);
text('Cepstra  by', 405, 27, 19);
text('inverse transform', 387, 45, 19);
text('Amplitude cepstra of', 578, 29, 19);
text('one-sided spectra', 587, 47, 19);
text('25 Hz', 582, 98.5, 19);
text('8.3 Hz', 653, 130, 19);
text('Frequency (Hz)', 220, 326.5, 15, true);
text('Quefrency (s)', 417, 325, 14.5, true);
text('Quefrency (s)', 627, 325, 14, true);

text('(b) Zoomed spectrum 2', 43, 358.5, 20);
text('2 x Toothmesh', 190, 390, 18);
arrow(197, 395, 430);
text('25 Hz', 580, 443.5, 19);
text('8.3 Hz', 650, 438.5, 19);
text('Frequency (Hz)', 218, 636.5, 15, true);
text('Quefrency (s)', 422, 636.5, 15, true);
text('Quefrency (s)', 623, 636.5, 15, true);
</script>
</body>
</html>
